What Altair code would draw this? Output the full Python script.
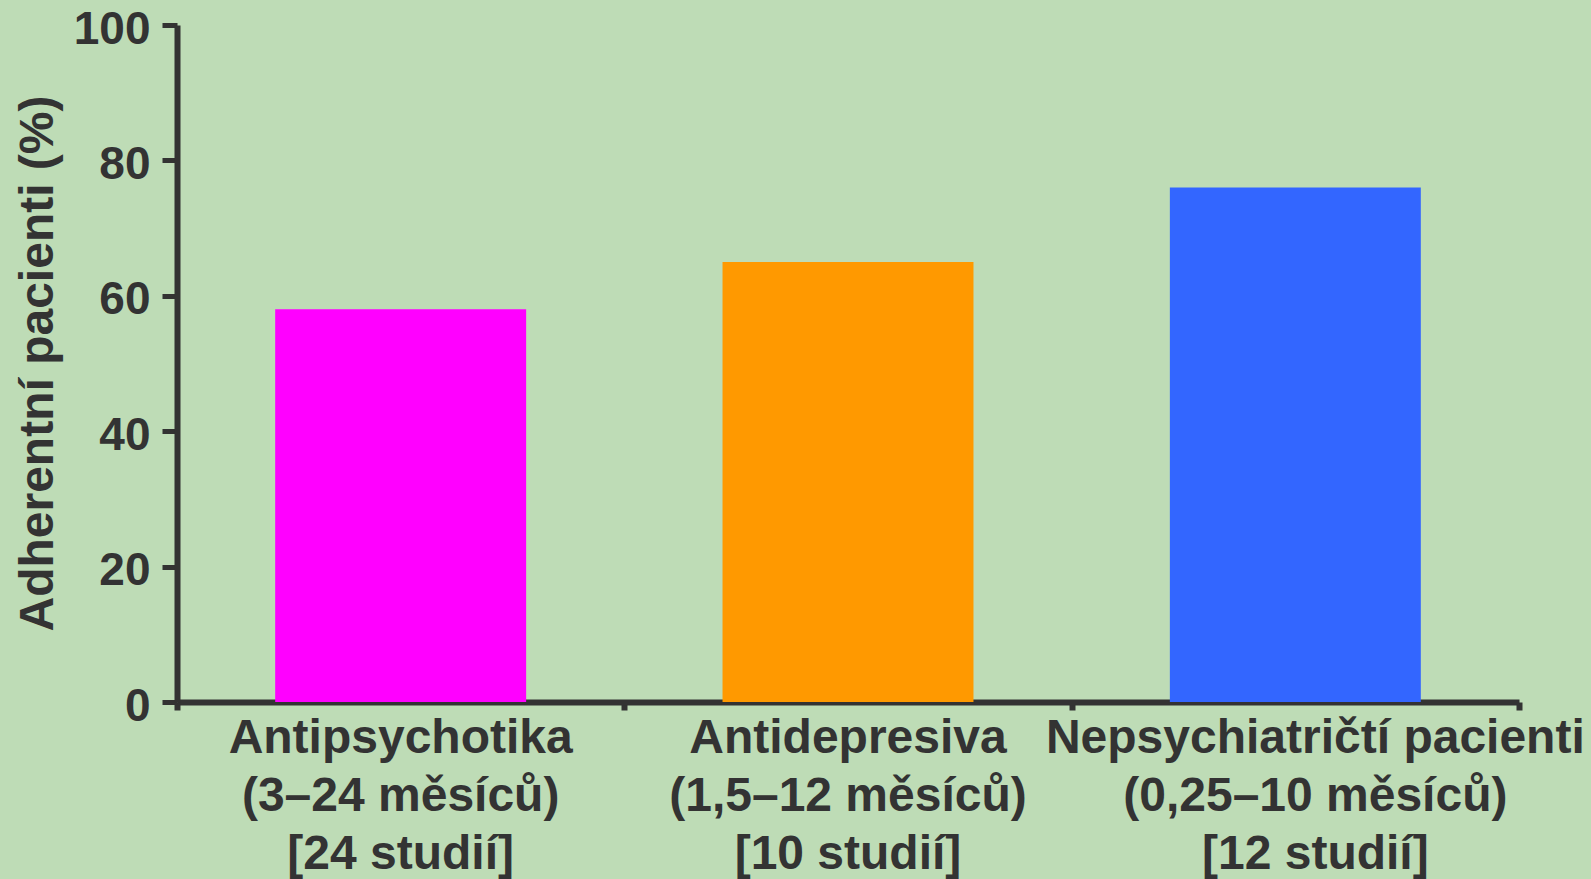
import altair as alt
import pandas as pd

# Adherence by patient group
groups = ["Antipsychotika", "Antidepresiva", "Nepsychiatričtí pacienti"]
periods = ["(3–24 měsíců)", "(1,5–12 měsíců)", "(0,25–10 měsíců)"]
studies = ["[24 studií]", "[10 studií]", "[12 studií]"]
adherence = [58, 65, 76]
bar_colors = ["#FF00FF", "#FF9900", "#3366FF"]
y_ticks = [0, 20, 40, 60, 80, 100]

labels = [f"{g}|{p}|{s}" for g, p, s in zip(groups, periods, studies)]
df = pd.DataFrame({"skupina": labels, "adherence": adherence})

INK = "#333333"
FONT = "Liberation Sans"
W, H = 1342, 677

x_axis = alt.Axis(
    title=None,
    labels=False,
    tickBand="extent",
    tickSize=8,
    tickWidth=6,
    tickColor=INK,
    domainColor=INK,
    domainWidth=6,
    grid=False,
)

y_axis = alt.Axis(
    title="Adherentní pacienti (%)",
    titleFont=FONT,
    titleFontSize=48,
    titleFontWeight="bold",
    titleColor=INK,
    titleAngle=270,
    titleAlign="center",
    titleBaseline="alphabetic",
    titleX=-125,
    titleY=338,
    values=y_ticks,
    labelFont=FONT,
    labelFontSize=46,
    labelFontWeight="bold",
    labelColor=INK,
    labelPadding=12,
    labelOffset=4,
    labelBaseline="middle",
    tickSize=15,
    tickWidth=5,
    tickColor=INK,
    domainColor=INK,
    domainWidth=6,
    grid=False,
)

x_enc = alt.X("skupina:N", sort=labels, axis=x_axis,
              scale=alt.Scale(paddingInner=0, paddingOuter=0))

base = alt.Chart(df)

bars = base.mark_bar(width=alt.RelativeBandSize(0.561)).encode(
    x=x_enc,
    y=alt.Y("adherence:Q", axis=y_axis, scale=alt.Scale(domain=[0, 100], nice=False)),
    color=alt.Color("skupina:N", scale=alt.Scale(domain=labels, range=bar_colors), legend=None),
)

# three-line category labels under the axis; the last block sits a little right of centre
cat_labels = base.mark_text(
    font=FONT,
    fontSize=48,
    fontWeight="bold",
    color=INK,
    align="center",
    baseline="top",
    lineBreak="|",
    lineHeight=58,
    dx=alt.ExprRef("indexof(datum.skupina, 'Nepsych') == 0 ? 20 : 0"),
).encode(
    x=x_enc,
    y=alt.value(H + 13),
    text="skupina:N",
)

chart = (
    alt.layer(bars, cat_labels)
    .properties(
        width=W,
        height=H,
        autosize=alt.AutoSizeParams(type="none"),
        padding={"left": 177, "top": 25, "right": 72, "bottom": 177},
        background="#bedcb6",
    )
    .configure_view(stroke=None)
)

chart.save("out.html", embed_options={"renderer": "svg", "actions": False})
